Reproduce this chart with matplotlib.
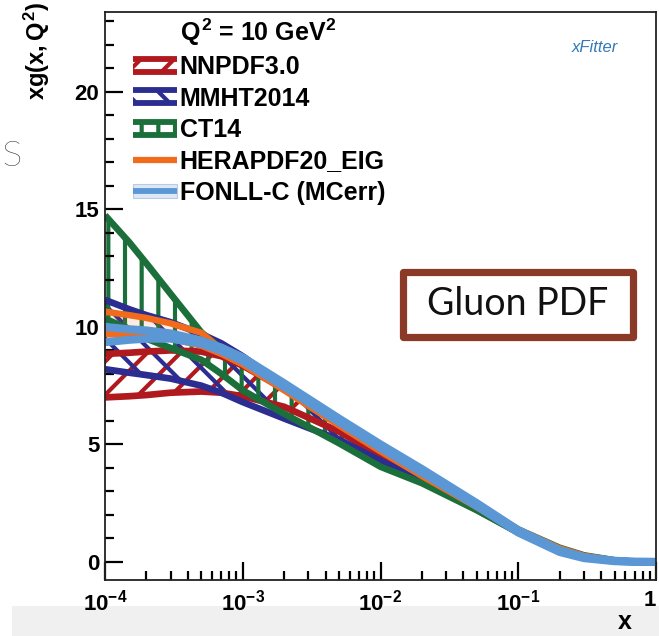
import matplotlib
matplotlib.use("Agg")
import matplotlib.pyplot as plt
from matplotlib.legend_handler import HandlerBase
from matplotlib.patches import Rectangle
from matplotlib.lines import Line2D
from matplotlib.ticker import MultipleLocator, LogLocator, NullFormatter

plt.rcParams.update({
    "font.family": ["Liberation Sans", "DejaVu Sans"],
    "font.weight": "bold",
    "axes.labelweight": "bold",
    "mathtext.fontset": "custom",
    "mathtext.rm": "Liberation Sans:bold",
    "mathtext.it": "Liberation Sans:bold",
    "mathtext.bf": "Liberation Sans:bold",
    "hatch.linewidth": 3.0,
})

# ---- gluon xg(x, Q^2 = 10 GeV^2): lower / upper edges of each PDF band ----
x = [1e-4, 1.5e-4, 2e-4, 3e-4, 5e-4, 7e-4, 1e-3, 2e-3, 5e-3, 1e-2,
     2e-2, 5e-2, 0.1, 0.2, 0.3, 0.5, 0.7, 1.0]

nnpdf_lo = [7.0, 7.05, 7.1, 7.2, 7.25, 7.2, 7.05, 6.6, 5.55, 4.5,
            3.55, 2.28, 1.27, 0.5, 0.2, 0.03, 0.0, 0.0]
nnpdf_hi = [8.85, 8.9, 8.95, 9.0, 8.95, 8.75, 8.35, 7.35, 5.85, 4.75,
            3.72, 2.4, 1.35, 0.56, 0.25, 0.06, 0.01, 0.0]

mmht_lo = [8.2, 8.05, 7.95, 7.8, 7.5, 7.2, 6.8, 6.1, 5.2, 4.3,
           3.45, 2.22, 1.25, 0.5, 0.2, 0.04, 0.0, 0.0]
mmht_hi = [11.15, 10.75, 10.5, 10.2, 9.7, 9.3, 8.75, 7.5, 5.9, 4.72,
           3.68, 2.38, 1.35, 0.56, 0.24, 0.05, 0.01, 0.0]

ct14_lo = [10.35, 9.9, 9.5, 9.1, 8.6, 8.0, 7.3, 6.3, 5.05, 4.05,
           3.35, 2.2, 1.25, 0.52, 0.22, 0.05, 0.005, 0.0]
ct14_hi = [14.75, 13.6, 12.7, 11.4, 9.77, 9.05, 8.5, 7.4, 5.87, 4.75,
           3.72, 2.42, 1.38, 0.6, 0.28, 0.07, 0.015, 0.0]

hera_lo = [9.7, 9.65, 9.6, 9.5, 9.2, 8.85, 8.4, 7.3, 5.8, 4.7,
           3.65, 2.33, 1.3, 0.52, 0.22, 0.04, 0.0, 0.0]
hera_hi = [10.65, 10.5, 10.38, 10.15, 9.75, 9.05, 8.6, 7.5, 6.0, 4.88,
           3.8, 2.45, 1.38, 0.58, 0.26, 0.06, 0.01, 0.0]

fonll_lo = [9.35, 9.45, 9.5, 9.5, 9.28, 8.98, 8.55, 7.45, 5.95, 4.85,
            3.8, 2.38, 1.25, 0.42, 0.16, 0.03, 0.0, 0.0]
fonll_hi = [10.0, 9.9, 9.85, 9.72, 9.42, 9.12, 8.7, 7.6, 6.1, 5.0,
            3.95, 2.5, 1.35, 0.5, 0.2, 0.05, 0.01, 0.0]

set_names = ["NNPDF3.0", "MMHT2014", "CT14", "HERAPDF20_EIG", "FONLL-C (MCerr)"]
set_colors = ["#b0191e", "#2c2d90", "#1b6f3b", "#f26a1c", "#5b97d5"]
set_hatches = ["/", "\\", "|", None, None]
set_lo = [nnpdf_lo, mmht_lo, ct14_lo, hera_lo, fonll_lo]
set_hi = [nnpdf_hi, mmht_hi, ct14_hi, hera_hi, fonll_hi]
edge_widths = [4.8, 4.8, 4.8, 4.6, 5.8]

xtick_vals = [1e-4, 1e-3, 1e-2, 1e-1, 1.0]
xtick_labels = [r"$10^{-4}$", r"$10^{-3}$", r"$10^{-2}$", r"$10^{-1}$", "1"]
ytick_vals = [0, 5, 10, 15, 20]
ytick_labels = ["0", "5", "10", "15", "20"]


class BandHandler(HandlerBase):
    """Legend key: hatched band with thick upper/lower edges."""

    def __init__(self, color, hatch, lw, style):
        super().__init__()
        self.color, self.hatch, self.lw, self.style = color, hatch, lw, style

    def create_artists(self, legend, orig_handle, xdescent, ydescent,
                       width, height, fontsize, trans):
        x0, y0 = -xdescent, -ydescent
        arts = []
        if self.style == "band":
            arts.append(Rectangle((x0, y0), width, height, facecolor="none",
                                  edgecolor=self.color, hatch=self.hatch,
                                  linewidth=0, transform=trans))
            for yy in (y0 + 0.12 * height, y0 + 0.88 * height):
                arts.append(Line2D([x0, x0 + width], [yy, yy], color=self.color,
                                   lw=self.lw, solid_capstyle="butt",
                                   transform=trans))
        elif self.style == "line":
            yy = y0 + 0.5 * height
            arts.append(Line2D([x0, x0 + width], [yy, yy], color=self.color,
                               lw=self.lw, solid_capstyle="butt", transform=trans))
        else:
            arts.append(Rectangle((x0, y0 + 0.1 * height), width, 0.8 * height,
                                  facecolor="#dde8f5", edgecolor="#b9cbe3",
                                  linewidth=0.8, transform=trans))
            yy = y0 + 0.5 * height
            arts.append(Line2D([x0, x0 + width], [yy, yy], color=self.color,
                               lw=self.lw, solid_capstyle="butt", transform=trans))
        return arts


fig = plt.figure(figsize=(6.59, 6.36), dpi=100)
fig.patch.set_facecolor("white")
fig.patches.append(Rectangle((12 / 659, 0), 1, 30 / 636, transform=fig.transFigure,
                             facecolor="#f0f0f0", edgecolor="none", zorder=-5))

ax = fig.add_axes([105 / 659, 56 / 636, 551 / 659, 568 / 636])

handles = []
handler_map = {}
styles = ["band", "band", "band", "line", "wave"]
for name, c, h, lo, hi, lw, st in zip(set_names, set_colors, set_hatches,
                                      set_lo, set_hi, edge_widths, styles):
    if h is not None:
        poly = ax.fill_between(x, lo, hi, facecolor="none", edgecolor=c,
                               hatch=h, linewidth=0, label=name)
    else:
        poly = ax.fill_between(x, lo, hi, facecolor=c, alpha=0.12,
                               linewidth=0, label=name)
    ax.plot(x, lo, color=c, lw=lw, solid_capstyle="butt")
    ax.plot(x, hi, color=c, lw=lw, solid_capstyle="butt")
    handles.append(poly)
    handler_map[poly] = BandHandler(c, h, 4.2 if st != "line" else 4.5, st)

ax.set_xscale("log")
ax.set_xlim(1e-4, 1.0)
ax.set_ylim(-0.77, 23.4)

ax.set_xticks(xtick_vals, labels=xtick_labels)
ax.xaxis.set_minor_locator(LogLocator(base=10, subs=range(2, 10), numticks=20))
ax.xaxis.set_minor_formatter(NullFormatter())
ax.set_yticks(ytick_vals, labels=ytick_labels)
ax.yaxis.set_minor_locator(MultipleLocator(1))

ax.tick_params(which="both", direction="in", top=False, right=False,
               width=1.6, labelsize=16)
ax.tick_params(which="major", length=13)
ax.tick_params(which="minor", length=6.5)
ax.tick_params(axis="x", pad=7)
ax.tick_params(axis="y", pad=4)
# keep the last x label inside the figure edge
ax.get_xticklabels()[-1].set_horizontalalignment("right")
for s in ax.spines.values():
    s.set_linewidth(1.3)
    s.set_color("#222222")

ax.set_xlabel("x", fontsize=18, fontweight="bold", va="center")
ax.xaxis.set_label_coords(0.944, -0.074)
ax.set_ylabel(r"$xg(x,Q^{2})$", fontsize=17, loc="top")
ax.yaxis.set_label_coords(-0.097, 1.018)

ax.text((180 - 105) / 551, (580 - 32) / 568, r"$Q^{2}$ = 10 GeV$^{2}$",
        transform=ax.transAxes, fontsize=18, ha="left", va="center")

ax.legend(handles=handles, labels=set_names, handler_map=handler_map,
          loc="upper left", bbox_to_anchor=((133 - 105) / 551, (580 - 55) / 568),
          frameon=False, fontsize=18, borderpad=0, borderaxespad=0,
          handlelength=1.75, handleheight=0.68, handletextpad=0.12,
          labelspacing=0.3)

# xFitter logo
ax.text((595 - 105) / 551, (580 - 47) / 568, "xFitter", transform=ax.transAxes,
        fontsize=12, style="italic", weight="normal", color="#3479b8",
        ha="center", va="center")

# "Gluon PDF" caption box
fig.patches.append(Rectangle((402.5 / 659, 1 - 336.5 / 636), 230 / 659, 65 / 636,
                             transform=fig.transFigure, facecolor="white",
                             edgecolor="#8a3a27", linewidth=5.2,
                             joinstyle="round", zorder=5))
fig.text(517.5 / 659, 1 - 304 / 636, "Gluon PDF", fontsize=27, family="Lato",
         weight="normal", color="#111111", ha="center", va="center", zorder=6)

# slide text fragment at the left edge
fig.text(0.002, 1 - 153 / 636, "s", fontsize=36, family="Lato", weight="light",
         color="#222222", ha="left", va="center")

fig.savefig("out.png", dpi=100)
